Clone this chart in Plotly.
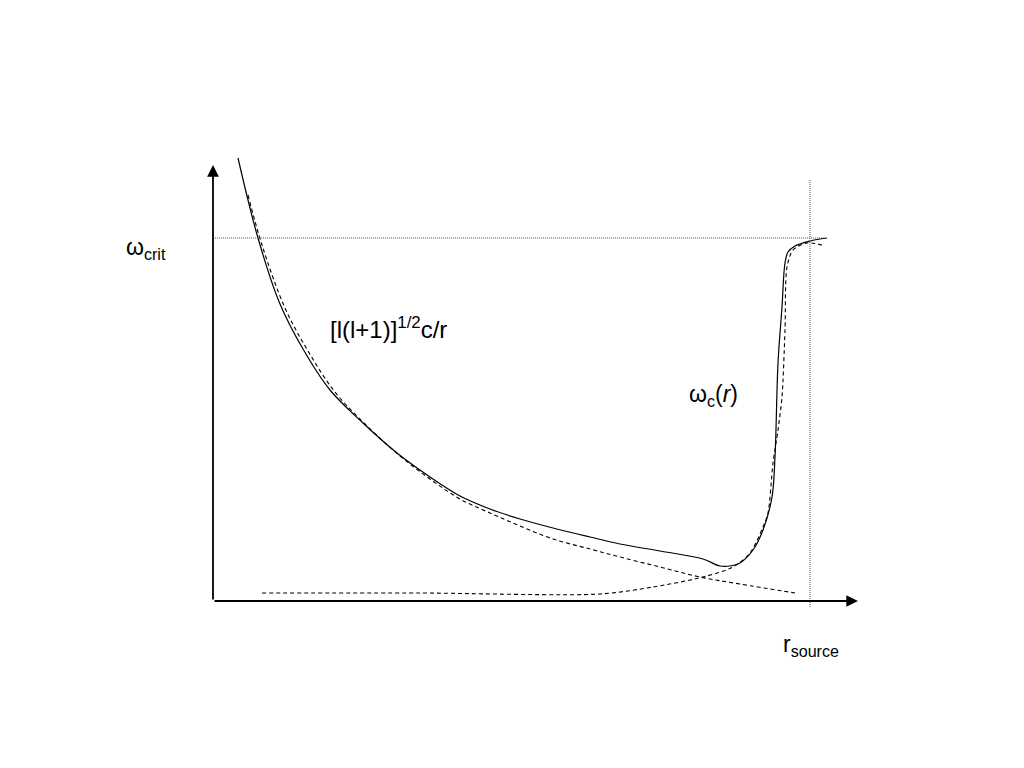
import plotly.graph_objects as go

# Coordinates: r (horizontal) and omega (vertical), arbitrary units with origin at axis corner
solid_r = [25, 45, 67, 90, 117, 150, 184, 217, 247, 277, 307, 340, 377, 407, 447, 490,
           507, 517, 527, 540, 550, 559, 562, 565, 569, 572, 575, 582, 597, 614]
solid_w = [443, 363, 297, 252, 211, 178, 148, 124, 105, 92, 82, 73, 64, 57, 50, 42,
           35, 35, 38, 51, 71, 104, 144, 238, 294, 338, 349, 355, 360, 363]

inv_r = [35, 49, 72, 95, 122, 153, 187, 217, 247, 277, 307, 340, 377, 407, 447, 487, 527, 582]
inv_w = [406, 356, 293, 250, 209, 176, 145, 122, 102, 88, 75, 62, 52, 44, 34, 24, 17, 8]

wc_r = [49, 207, 387, 440, 490, 520, 537, 550, 555, 560, 565, 569, 572, 574, 580, 594, 609]
wc_w = [8, 8, 7, 14, 24, 34, 48, 74, 88, 138, 171, 204, 271, 334, 351, 358, 356]

omega_crit = 363
r_source = 597

fig = go.Figure()
fig.add_trace(go.Scatter(x=solid_r, y=solid_w, mode="lines", line=dict(color="black", width=1.2, shape="spline", smoothing=1.0), showlegend=False, hoverinfo="skip"))
fig.add_trace(go.Scatter(x=inv_r, y=inv_w, mode="lines", line=dict(color="black", width=1.1, dash="4px,3px", shape="spline", smoothing=1.0), showlegend=False, hoverinfo="skip"))
fig.add_trace(go.Scatter(x=wc_r, y=wc_w, mode="lines", line=dict(color="black", width=1.1, dash="4px,3px", shape="spline", smoothing=0.8), showlegend=False, hoverinfo="skip"))

# reference lines
fig.add_trace(go.Scatter(x=[0, 612], y=[omega_crit, omega_crit], mode="lines", line=dict(color="#555", width=1, dash="1px,1px"), showlegend=False, hoverinfo="skip"))
fig.add_trace(go.Scatter(x=[r_source, r_source], y=[-6, 421], mode="lines", line=dict(color="#555", width=1, dash="1px,1px"), showlegend=False, hoverinfo="skip"))

# axes with arrows
fig.add_annotation(x=645, y=0, ax=0, ay=0, xref="x", yref="y", axref="x", ayref="y", text="", showarrow=True, arrowhead=2, arrowsize=1.3, arrowwidth=1.8, arrowcolor="black")
fig.add_annotation(x=0, y=436, ax=0, ay=0, xref="x", yref="y", axref="x", ayref="y", text="", showarrow=True, arrowhead=2, arrowsize=1.3, arrowwidth=1.8, arrowcolor="black")

font = dict(family="Liberation Sans, Arial", size=23, color="black")
fig.add_annotation(x=-67, y=353, text="ω<sub>crit</sub>", showarrow=False, font=font)
fig.add_annotation(x=175, y=273, text="[l(l+1)]<sup>1/2</sup>c/r", showarrow=False, font=dict(family="Liberation Sans, Arial", size=24, color="black"))
fig.add_annotation(x=500, y=206, text="ω<sub>c</sub>(<i>r</i>)", showarrow=False, font=font)
fig.add_annotation(x=598, y=-44, text="r<sub>source</sub>", showarrow=False, font=font)

fig.update_xaxes(range=[-205, 819], visible=False, fixedrange=True)
fig.update_yaxes(range=[-175, 593], visible=False, fixedrange=True)
fig.update_layout(width=1024, height=768, margin=dict(l=0, r=0, t=0, b=0), plot_bgcolor="white", paper_bgcolor="white")

fig.write_html("out.html")
